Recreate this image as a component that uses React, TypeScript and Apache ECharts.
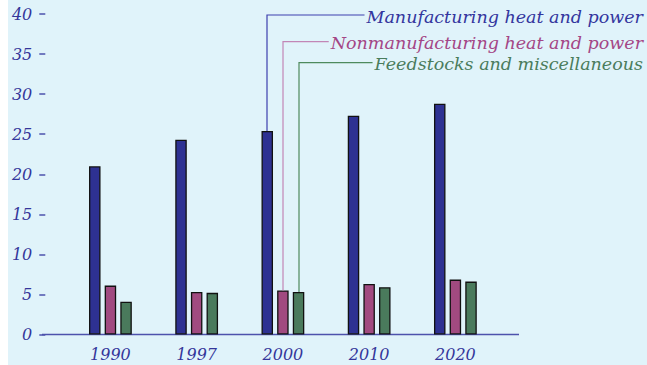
import React, { useEffect, useRef } from "react";
import * as echarts from "echarts";

const categories = ["1990", "1997", "2000", "2010", "2020"];
const manufacturing = [21.0, 24.3, 25.4, 27.3, 28.8];
const nonManufacturing = [6.1, 5.3, 5.5, 6.3, 6.85];
const feedstocks = [4.1, 5.2, 5.3, 5.9, 6.6];
const seriesNames = [
  "Manufacturing heat and power",
  "Nonmanufacturing heat and power",
  "Feedstocks and miscellaneous",
];
const yTicks = [0, 40, 5];

const FONT = "'DejaVu Serif', serif";
const barColors = ["#2e3192", "#a14a80", "#4a7a5c"];
const textColors = ["#34369e", "#a44686", "#4a7c5c"];
const lineColors = ["#3d40ae", "#c286b6", "#4e8a5e"];
const axisColor = "#4d52ac";
const BAR_W = 11.5;
const GAP = 0.36;
const LEGEND_FONT = "italic 17.5px 'DejaVu Serif'";

export default function App() {
  const ref = useRef<HTMLDivElement>(null);
  useEffect(() => {
    if (!ref.current) return;
    const chart = echarts.init(ref.current, null, { renderer: "svg" });
    const data = [manufacturing, nonManufacturing, feedstocks];
    chart.setOption({
      animation: false,
      grid: { left: 59.3, right: 148.5, top: 14, bottom: 30.5 },
      xAxis: {
        type: "category",
        data: categories,
        axisLine: { show: false },
        axisTick: { show: false },
        axisLabel: {
          margin: 12,
          fontFamily: FONT,
          fontStyle: "italic",
          fontSize: 16,
          color: "#34369a",
        },
      },
      yAxis: {
        type: "value",
        min: yTicks[0],
        max: yTicks[1],
        interval: yTicks[2],
        offset: 22,
        splitLine: { show: false },
        axisLine: { show: false },
        axisTick: {
          show: true,
          length: 6,
          lineStyle: { color: axisColor, width: 1.5 },
        },
        axisLabel: {
          margin: 13,
          fontFamily: FONT,
          fontStyle: "italic",
          fontSize: 16,
          color: "#34369a",
        },
      },
      series: data.map((d, i) => ({
        type: "bar",
        name: seriesNames[i],
        data: d,
        barWidth: BAR_W,
        barGap: GAP * 100 + "%",
        itemStyle: {
          color: barColors[i],
          borderColor: "#111",
          borderWidth: 1.3,
        },
        z: 3,
      })),
    });

    const canvas = document.createElement("canvas");
    const ctx = canvas.getContext("2d")!;
    ctx.font = LEGEND_FONT;
    const y0 = chart.convertToPixel({ yAxisIndex: 0 }, 0) as number;
    const step = BAR_W * (1 + GAP);
    const target = 2; // "2000"
    const cx = chart.convertToPixel({ xAxisIndex: 0 }, categories[target]) as number;
    const lineYs = [15, 41.6, 62.7];
    const textRight = 635;
    const graphics: any[] = [
      {
        type: "line",
        shape: { x1: 34, y1: y0, x2: 511, y2: y0 },
        style: { stroke: axisColor, lineWidth: 1.5 },
        z: 2,
      },
    ];
    data.forEach((d, i) => {
      const bx = Math.round(cx + (i - 1) * step);
      const by = chart.convertToPixel({ yAxisIndex: 0 }, d[target]) as number;
      const tw = ctx.measureText(seriesNames[i]).width;
      const ly = lineYs[i];
      graphics.push({
        type: "polyline",
        shape: {
          points: [
            [bx, by],
            [bx, ly],
            [textRight - tw - 2, ly],
          ],
        },
        style: { stroke: lineColors[i], lineWidth: 1.2, fill: "none" },
        z: 10,
      });
      graphics.push({
        type: "text",
        x: textRight,
        y: ly + 1.5,
        style: {
          text: seriesNames[i],
          font: LEGEND_FONT + ", serif",
          fill: textColors[i],
          align: "right",
          verticalAlign: "middle",
        },
        z: 10,
      });
    });
    chart.setOption({ graphic: graphics });
    return () => chart.dispose();
  }, []);
  return (
    <div
      ref={ref}
      style={{
        position: "fixed",
        left: 8,
        top: 0,
        width: 639,
        height: 365,
        background: "#e0f3fa",
      }}
    />
  );
}
